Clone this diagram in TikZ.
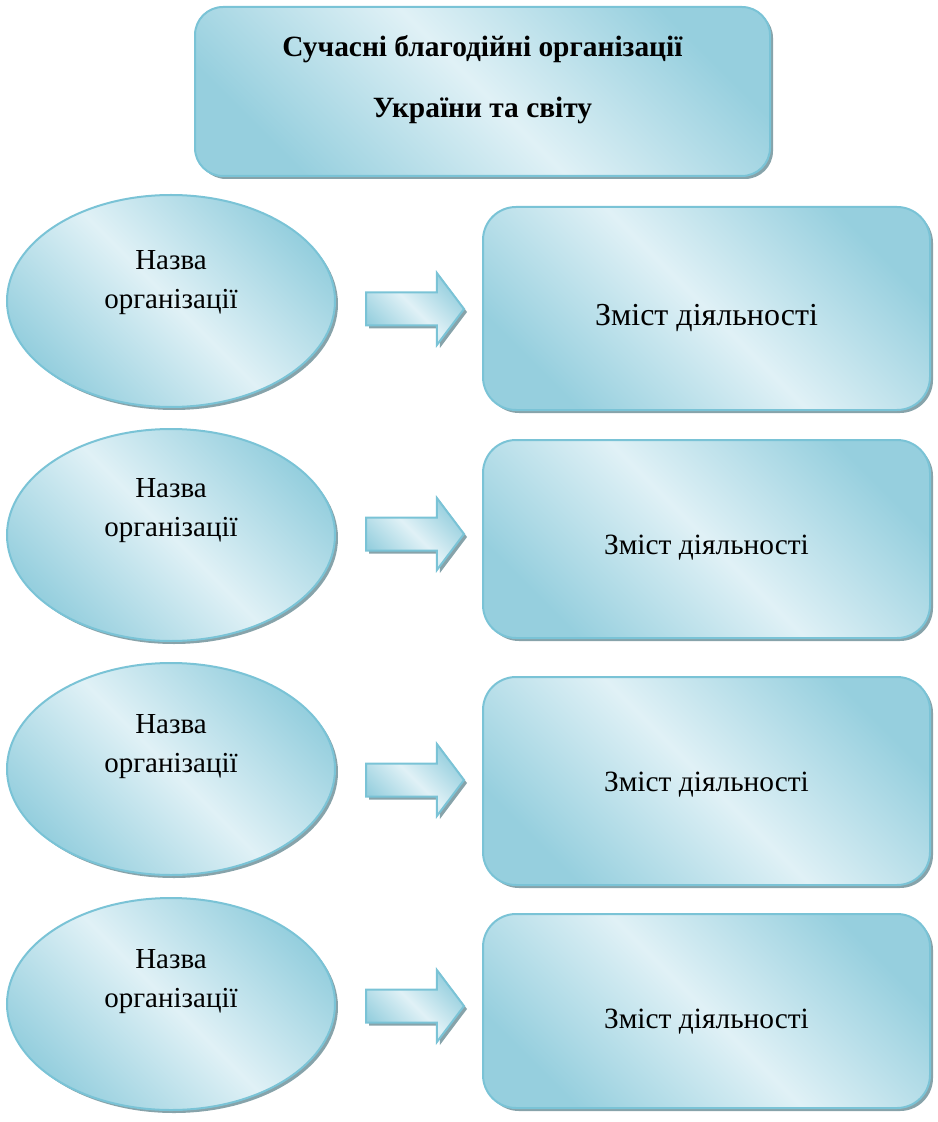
\documentclass[tikz,border=0pt]{standalone}
\usepackage{fontspec}
\setmainfont{Liberation Serif}
\usetikzlibrary{shapes.geometric, shapes.arrows, shadows}

\definecolor{aquadark}{RGB}{150,207,222}
\definecolor{aqualight}{RGB}{224,241,246}
\definecolor{aquaedge}{RGB}{122,195,214}
\definecolor{shadowgrey}{RGB}{135,163,170}

\begin{document}
\begin{tikzpicture}[x=0.5pt, y=-0.5pt,
  aqua/.style={draw=aquaedge, line width=1pt,
    top color=aquadark, bottom color=aquadark, middle color=aqualight, shading angle=-45,
    drop shadow={shadow xshift=1.5pt, shadow yshift=-1.5pt, fill=shadowgrey, opacity=1}},
  title box/.style={aqua, rectangle, rounded corners=14pt, minimum width=287.5pt, minimum height=84.5pt},
  org node/.style={aqua, ellipse, minimum width=164pt, minimum height=106pt},
  work box/.style={aqua, rectangle, rounded corners=16.5pt, minimum width=223.5pt},
  go arrow/.style={aqua, single arrow, anchor=tail, inner sep=0pt, inner ysep=7.75pt,
    minimum height=49pt, single arrow head extend=9.75pt, single arrow tip angle=106},
  org text/.style={align=center, font=\fontsize{14.5}{19.5}\selectfont},
  work text/.style={font=\fontsize{14.7}{17}\selectfont}]
  \useasboundingbox (0,0) rectangle (937,1122);

  % heading
  \node[title box, label={[align=center, yshift=6pt, font=\bfseries\fontsize{14.7}{30.5}\selectfont]center:Сучасні благодійні організації\\України та світу}] (t) at (482.5,91.5) {};

  % organisations
  \node[org node, label={[org text, yshift=9pt]center:Назва\\організації}] (n1) at (171,301) {};
  \node[org node, label={[org text, yshift=12pt]center:Назва\\організації}] (n2) at (171,535) {};
  \node[org node, label={[org text, yshift=11pt]center:Назва\\організації}] (n3) at (171,769) {};
  \node[org node, label={[org text, yshift=11pt]center:Назва\\організації}] (n4) at (171,1004) {};

  % what they do
  \node[work box, minimum height=101.5pt, label={[work text, font=\fontsize{16}{19}\selectfont, yshift=-4.75pt]center:Зміст діяльності}] (z1) at (706.5,308.5) {};
  \node[work box, minimum height=99pt, label={[work text, yshift=-4.5pt]center:Зміст діяльності}] (z2) at (706.5,539) {};
  \node[work box, minimum height=104pt, label={[work text, yshift=-2pt]center:Зміст діяльності}] (z3) at (706.5,781) {};
  \node[work box, minimum height=97pt, label={[work text, yshift=-5.5pt]center:Зміст діяльності}] (z4) at (706.5,1011) {};

  % block arrows
  \node[go arrow] (a1) at (365,309) {};
  \node[go arrow] (a2) at (365,534) {};
  \node[go arrow] (a3) at (365,780) {};
  \node[go arrow] (a4) at (365,1006) {};
\end{tikzpicture}
\end{document}
